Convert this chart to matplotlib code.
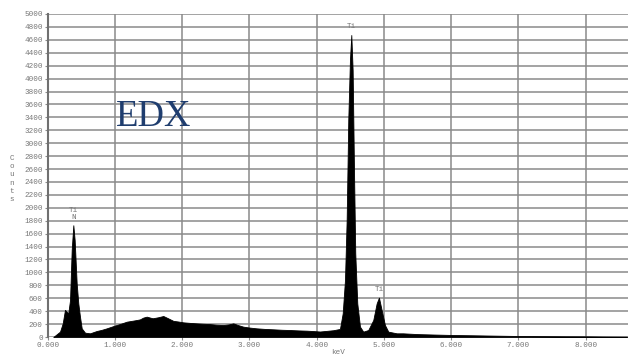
import matplotlib
matplotlib.use('Agg')
import matplotlib.pyplot as plt

# spectro EDX, valores
energia_kev = [0.083, 0.183, 0.223, 0.257, 0.283, 0.306, 0.332, 0.357, 0.381, 0.401,
               0.431, 0.455, 0.480, 0.506, 0.555, 0.629, 0.729, 0.800, 0.877, 0.950,
               1.026, 1.100, 1.175, 1.250, 1.323, 1.372, 1.420, 1.472, 1.560, 1.640,
               1.719, 1.790, 1.868, 1.940, 2.016, 2.120, 2.216, 2.310, 2.413, 2.510,
               2.611, 2.690, 2.760, 2.830, 2.909, 3.010, 3.108, 3.230, 3.355, 3.480,
               3.603, 3.730, 3.851, 3.950, 4.049, 4.150, 4.247, 4.346, 4.387, 4.421,
               4.446, 4.470, 4.495, 4.515, 4.535, 4.555, 4.574, 4.604, 4.644, 4.693,
               4.767, 4.842, 4.892, 4.926, 4.966, 5.015, 5.065, 5.190, 5.283, 5.500,
               5.750, 6.027, 6.300, 6.600, 7.023, 7.400, 7.700, 8.019, 8.300, 8.614]
contagens = [0, 83, 210, 420, 390, 366, 570, 1350, 1730, 1500,
             830, 520, 315, 134, 67, 57, 93, 110, 134, 160,
             186, 210, 237, 250, 263, 273, 300, 315, 290, 305,
             325, 290, 250, 240, 227, 218, 211, 205, 200, 190,
             185, 195, 211, 185, 160, 145, 134, 125, 119, 112,
             108, 102, 98, 92, 85, 95, 105, 125, 366, 882,
             1811, 3360, 4290, 4675, 4130, 2585, 1295, 520, 160, 83,
             108, 263, 520, 610, 418, 186, 83, 57, 57, 45,
             38, 31, 27, 22, 15, 13, 11, 10, 7, 5]

picos_x = [0.381, 4.515, 4.926]
picos_y = [1730, 4675, 610]
picos_txt = ['Ti\nN', 'Ti', 'Ti']

xticks = [0, 1, 2, 3, 4, 5, 6, 7, 8]
yticks = list(range(0, 5001, 200))

fig = plt.figure(figsize=(6.32, 3.60), dpi=100)
ax = fig.add_axes([47.7/632, 23/360, (628-47.7)/632, 323/360])

cinza = '#8a8a8a'
ax.fill_between(energia_kev, contagens, 0, color='black', linewidth=0.6, edgecolor='black')

ax.set_xlim(0, 8.63)
ax.set_ylim(0, 5000)
ax.set_xticks(xticks)
ax.set_xticklabels(['%.3f' % v for v in xticks])
ax.set_yticks(yticks)
ax.set_yticklabels([str(v) for v in yticks])

ax.grid(True, color=cinza, linewidth=1.1)
ax.set_axisbelow(True)
for lado in ['top', 'right', 'bottom']:
    ax.spines[lado].set_visible(False)
ax.spines['left'].set_color('#707070')
ax.spines['left'].set_linewidth(1.5)

ax.tick_params(axis='both', length=2, width=0.8, color=cinza, labelcolor='#777777',
               labelsize=5.5, pad=1.5)
for t in ax.get_xticklabels() + ax.get_yticklabels():
    t.set_family('Liberation Mono')

for x, y, txt in zip(picos_x, picos_y, picos_txt):
    ax.text(x, y + 70, txt, ha='center', va='bottom', fontsize=5.5, color='#777777',
            family='Liberation Mono', linespacing=0.9)

fig.text(338/632, 1 - 352/360, 'keV', ha='center', va='center', fontsize=5.5,
         color='#777777', family='Liberation Mono')
fig.text(12/632, 1 - 179/360, 'C\no\nu\nn\nt\ns', ha='center', va='center', fontsize=5.5,
         color='#777777', family='Liberation Mono', linespacing=1.25)
fig.text(116/632, 1 - 117/360, 'EDX', ha='left', va='center', fontsize=26.5,
         color='#1f3d6e', family='Liberation Serif')

plt.savefig('out.png', dpi=100)
